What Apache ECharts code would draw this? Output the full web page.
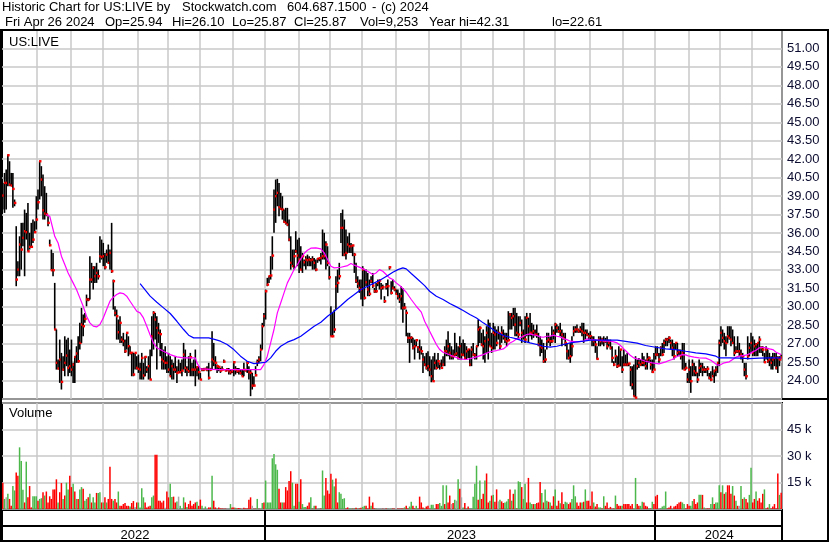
<!DOCTYPE html>
<html><head><meta charset="utf-8">
<script src="https://cdn.jsdelivr.net/npm/echarts@6/dist/echarts.min.js"></script>
<style>html,body{margin:0;padding:0;background:#fff}#c{width:830px;height:543px}</style>
</head><body><div id="c"></div>
<script>
// ---- Daily bars (one entry per trading day) ----
const high = [
40.07,40.88,41.15,42.37,41.83,40.88,40.88,38.72,36.55,33.70,
35.73,36.82,36.82,37.90,37.63,38.44,36.01,36.82,37.09,36.95,
38.99,39.53,41.83,41.43,40.75,39.80,39.26,37.36,35.46,34.65,
34.38,31.94,28.15,25.71,27.33,26.25,25.98,27.60,27.33,27.47,
26.52,27.33,25.44,25.98,26.79,27.60,28.69,29.91,29.37,29.50,
30.99,30.72,34.11,33.57,33.30,33.30,33.57,33.02,35.73,35.46,
35.19,34.38,34.65,35.06,34.65,36.82,32.21,30.04,29.77,28.96,
29.23,27.60,27.88,27.33,27.88,27.60,26.79,26.25,26.25,26.25,
25.98,26.11,25.44,26.25,25.44,25.98,25.17,25.98,26.52,
29.23,29.64,29.50,29.23,28.69,28.15,27.06,26.52,26.79,25.98,
26.25,25.98,25.71,25.44,25.98,25.17,25.71,25.44,25.71,27.06,
26.52,25.17,25.98,26.25,25.44,25.71,26.52,25.17,25.17,24.62,
25.03,25.03,25.03,25.17,25.44,25.03,28.01,27.06,25.98,25.30,
25.17,25.03,25.17,25.71,24.89,25.03,25.03,24.89,24.89,25.57,
25.17,25.03,25.03,24.89,24.89,25.44,24.89,25.57,25.17,24.89,
24.62,24.35,25.17,25.71,25.98,26.93,28.69,29.50,31.40,32.35,
32.48,34.11,35.73,39.53,40.34,40.40,40.07,39.26,38.99,37.90,
38.04,38.04,37.09,35.73,34.65,34.65,36.14,35.46,35.60,34.92,
34.38,33.84,34.11,34.24,34.11,33.97,34.11,33.97,33.84,33.97,
33.97,34.38,
36.28,36.01,35.33,34.92,33.30,30.04,29.50,29.77,32.48,33.02,
33.57,37.63,37.90,37.09,36.28,35.73,36.01,35.19,35.06,34.38,
33.57,32.48,32.21,32.21,33.30,33.02,33.02,32.75,32.21,32.48,
32.75,31.53,31.94,32.21,32.21,31.94,31.80,30.86,31.94,32.21,
33.30,32.08,32.21,31.67,31.40,31.40,31.13,31.67,31.53,30.31,
29.77,27.88,27.88,27.60,27.47,27.33,27.33,26.79,27.33,26.79,
26.25,25.98,26.25,26.38,25.98,25.71,25.98,26.25,25.71,26.25,
25.44,25.71,25.98,26.79,27.33,28.01,27.06,26.79,26.52,27.88,
27.06,26.79,27.60,27.06,27.33,27.06,26.79,26.52,26.52,26.79,
27.06,26.25,26.79,28.96,28.42,27.88,28.15,27.60,28.42,28.96,
28.69,27.88,
28.69,28.42,28.15,28.42,27.88,28.42,28.15,27.88,27.88,29.64,
29.50,29.50,29.91,29.91,29.50,29.23,29.23,28.96,28.15,29.23,
29.50,29.09,29.50,28.69,28.55,28.15,28.55,27.88,27.60,27.33,
27.06,26.52,27.88,27.88,27.60,28.42,28.15,28.69,28.55,28.42,
28.69,28.15,27.88,27.88,27.06,26.52,27.06,27.60,28.42,28.42,
28.55,28.15,28.42,28.69,28.69,28.15,28.15,27.88,28.01,27.60,
27.60,27.33,26.79,27.60,27.60,27.47,27.60,27.47,27.60,27.33,
27.33,26.79,25.57,26.52,25.98,26.79,26.52,25.98,26.52,26.11,
26.25,25.44,25.17,25.17,25.30,25.98,25.71,25.84,25.71,
26.25,25.98,25.71,26.25,25.98,25.71,25.71,26.25,26.79,26.79,
26.25,26.79,27.06,27.33,27.47,27.47,27.60,27.33,27.33,27.06,
27.06,27.06,26.52,26.52,27.06,27.06,25.44,24.62,25.71,25.17,
25.71,25.44,25.17,24.62,25.71,25.44,25.44,25.17,25.03,25.17,
24.62,24.76,25.17,24.89,25.17,25.44,27.33,28.42,28.15,27.88,
27.60,28.42,28.42,28.42,28.15,27.60,26.79,27.60,27.06,26.52,
26.25,25.44,25.44,27.60,27.06,27.88,27.60,27.33,27.06,27.06,
27.60,26.79,26.79,26.25,26.79,26.52,26.25,25.98,26.25,26.25,
26.25,25.98,25.98,26.10
];
const low = [
37.90,37.63,37.90,39.80,39.80,39.80,38.04,38.17,31.67,32.48,
32.48,33.02,34.92,32.48,35.46,34.51,34.65,34.87,35.19,36.01,
36.28,37.90,38.72,38.99,37.09,37.09,37.36,36.55,34.92,32.97,
32.48,28.15,24.89,24.89,23.81,23.27,24.80,24.35,25.17,24.35,
24.62,24.35,23.81,23.81,25.44,25.44,26.52,27.06,27.60,28.69,
30.04,30.45,30.59,31.94,31.40,31.94,31.94,32.21,33.57,33.84,
33.30,33.02,33.57,33.50,33.02,32.75,29.77,29.23,27.33,27.33,
27.06,27.06,26.79,26.25,26.52,25.98,26.11,24.35,24.35,24.89,
24.89,24.62,24.08,24.08,24.08,24.35,24.62,24.08,24.08,
25.98,26.52,27.33,24.89,27.06,25.98,24.89,24.89,24.89,24.62,
24.62,24.35,24.08,24.08,24.62,23.81,24.62,24.62,24.35,24.89,
24.62,24.35,24.62,24.35,24.35,24.35,23.54,24.35,24.08,24.08,
24.76,24.76,24.89,24.76,24.08,24.76,24.89,25.17,24.89,24.62,
24.76,24.62,24.89,25.44,24.76,24.76,24.49,24.49,24.62,24.35,
24.49,24.62,24.49,24.49,24.35,24.35,24.76,24.62,24.08,22.73,
23.27,23.54,24.35,25.17,25.44,25.57,26.52,28.42,28.96,31.67,
31.94,32.21,33.02,36.01,36.82,38.17,37.36,37.90,37.09,36.82,
36.68,36.55,35.33,33.02,33.30,33.02,34.38,33.30,32.75,33.02,
32.75,33.30,33.02,33.30,33.30,33.30,33.02,33.02,32.89,33.57,
33.70,33.43,
33.84,33.84,33.02,33.30,32.21,27.60,27.60,27.88,29.77,31.13,
32.21,35.19,34.11,34.11,33.84,34.38,34.38,34.38,34.11,32.75,
31.94,31.53,31.13,30.59,30.04,30.59,31.67,30.86,30.86,31.94,
31.53,31.13,31.13,31.67,31.40,30.59,31.40,30.31,31.40,30.86,
33.02,30.99,31.40,31.26,30.99,30.59,30.31,29.77,28.69,29.77,
27.60,27.06,25.44,27.06,26.52,25.71,26.79,26.25,25.71,26.11,
24.62,25.17,24.89,24.76,24.35,23.86,23.95,24.89,24.89,25.03,
24.89,25.03,25.17,25.17,25.98,25.98,25.71,25.71,25.71,25.98,
25.98,25.71,25.71,25.71,25.98,25.71,25.71,25.84,25.17,25.17,
25.98,25.71,25.71,26.79,27.06,26.79,25.71,25.44,26.25,25.71,
26.79,26.25,
26.52,26.52,26.79,27.33,26.52,27.06,27.33,27.06,26.79,27.20,
28.15,28.15,28.42,27.60,27.60,27.33,28.42,27.06,27.33,27.06,
27.60,27.06,27.60,27.33,27.47,27.60,27.47,26.79,25.98,26.25,
25.44,25.44,26.52,27.06,26.79,27.06,27.33,27.06,27.88,27.88,
27.60,26.79,27.33,26.79,25.71,25.71,25.44,25.98,27.60,27.88,
27.88,27.88,27.88,27.60,27.06,27.33,27.60,27.33,27.33,26.79,
26.79,26.25,25.71,26.79,26.79,26.93,26.79,27.06,26.52,26.79,
26.52,25.44,25.17,25.44,25.03,25.17,25.17,24.62,25.17,25.17,
25.17,25.17,23.54,23.27,22.73,22.61,24.89,25.03,25.17,
25.17,25.17,24.89,24.89,25.44,24.89,24.62,24.89,25.71,25.98,
25.44,25.98,25.98,26.25,26.79,26.79,27.06,26.52,25.98,25.71,
26.52,25.98,25.98,25.71,24.89,24.89,24.89,23.81,23.81,23.00,
24.35,24.35,24.35,23.81,24.35,24.62,24.35,24.62,24.62,24.35,
24.08,23.95,24.35,23.81,24.35,24.62,25.17,26.79,27.06,26.52,
25.98,27.06,27.33,26.79,27.06,25.98,26.25,26.25,25.98,25.71,
25.44,24.35,24.08,25.71,25.98,26.25,25.98,25.98,25.98,25.98,
26.25,26.25,25.98,25.44,25.71,25.44,25.17,24.89,24.89,25.17,
24.89,24.62,25.17,25.87
];
const close = [
39.04,40.07,40.07,42.32,39.93,39.85,39.58,38.44,32.21,33.02,
35.06,34.65,35.60,36.14,36.06,34.51,34.87,34.87,35.46,36.06,
37.09,38.50,41.83,40.34,37.85,37.58,37.50,36.82,35.00,32.97,
32.97,28.15,25.44,24.98,25.71,23.89,24.89,25.44,26.03,25.03,
25.17,24.89,25.30,25.92,26.20,25.57,27.06,28.55,28.42,29.01,
30.59,30.59,32.21,32.21,33.16,32.48,32.75,32.48,34.11,34.05,
34.11,33.21,34.24,33.57,34.38,32.89,32.08,29.50,29.23,27.93,
28.69,27.33,27.20,26.38,27.88,26.79,26.25,26.25,24.49,26.25,
25.03,24.95,24.89,25.84,24.41,25.92,24.89,25.17,24.08,
27.60,29.50,28.96,28.28,27.88,27.77,25.71,25.57,25.44,25.44,
24.89,24.35,25.17,24.89,24.89,24.62,24.68,24.68,24.81,26.11,
25.03,24.89,24.76,25.90,24.89,24.89,24.89,25.08,24.68,24.08,
24.89,24.89,24.95,24.89,24.22,24.89,25.71,25.57,25.44,25.17,
25.11,24.81,24.89,25.54,24.81,24.89,24.76,24.68,24.76,25.49,
24.89,24.76,24.79,24.62,24.35,24.89,24.81,25.44,24.68,24.62,
23.59,23.59,24.43,25.49,25.71,26.52,28.42,29.23,31.26,31.80,
32.48,32.54,34.16,37.90,38.99,39.26,38.09,37.96,37.90,36.90,
36.82,36.68,35.46,33.57,33.30,34.11,34.51,34.16,33.84,33.02,
34.11,33.62,33.84,33.78,33.84,33.78,33.84,33.57,33.02,33.89,
33.95,33.97,
34.11,34.11,35.06,33.57,32.40,27.60,27.60,28.15,31.67,31.94,
32.48,36.41,36.41,34.24,34.38,35.06,34.92,34.92,34.98,34.24,
32.13,31.89,31.53,31.40,33.02,30.72,31.99,31.40,31.05,32.08,
31.72,31.26,31.26,31.94,32.13,31.53,31.59,30.45,31.62,31.67,
33.21,31.13,31.53,31.40,31.05,30.86,30.59,30.86,29.91,29.93,
29.50,27.47,27.47,27.47,26.66,26.79,27.28,26.71,26.52,26.38,
25.71,25.30,25.03,25.17,24.89,24.35,23.95,25.44,25.03,25.57,
25.36,25.03,25.30,26.38,26.38,26.79,26.25,25.98,25.98,26.11,
26.20,25.84,26.79,26.11,26.09,25.84,26.38,26.52,25.30,26.52,
26.11,26.06,26.79,28.15,28.28,26.93,26.79,27.20,27.88,27.33,
26.79,26.66,
27.88,27.74,27.06,27.88,26.79,27.88,27.60,27.33,27.20,27.28,
29.37,29.09,29.23,28.55,27.88,27.74,28.69,27.88,27.60,27.33,
29.09,28.42,27.88,27.88,28.01,27.74,27.74,26.93,26.79,26.66,
25.57,25.71,27.20,27.33,27.20,27.20,27.88,28.55,28.28,28.01,
28.01,27.74,27.47,27.06,26.38,25.84,25.98,26.79,28.01,28.15,
28.15,28.01,28.15,28.01,27.88,27.88,27.74,27.60,27.60,27.33,
27.20,26.93,25.76,27.33,27.20,27.33,27.20,27.20,26.79,27.06,
26.66,25.84,25.30,25.98,25.17,25.22,26.52,24.89,25.30,25.30,
25.30,25.38,24.89,23.67,22.73,22.61,25.17,25.44,25.30,
25.44,25.44,25.17,25.71,25.84,25.30,24.70,24.89,26.11,26.11,
25.71,26.66,26.11,27.06,27.33,27.33,27.47,27.06,26.66,25.98,
27.06,26.25,26.38,25.98,26.25,24.89,25.03,24.08,24.89,23.95,
25.30,24.76,24.62,24.08,25.03,25.17,24.89,24.89,24.89,24.95,
24.22,24.08,24.35,24.76,24.89,25.44,27.06,27.88,27.47,27.20,
27.06,27.60,27.47,27.33,27.06,26.25,26.38,26.38,26.38,26.11,
25.98,24.89,24.35,25.98,26.66,27.06,26.25,26.79,26.93,27.06,
27.33,26.66,26.52,25.49,26.52,25.57,25.71,25.44,25.71,25.84,
25.03,25.84,25.71,25.87
];
const volume = [
14900,5700,6600,8600,5700,1800,13000,10500,20700,18800,
34900,27200,10900,3700,26800,6600,13000,900,7200,7200,
7200,4700,5700,6100,9500,7600,9900,3700,7200,5700,
11100,11100,16800,3700,9500,14700,5700,7600,14900,11100,
18800,12400,14300,9900,5700,5700,11100,12400,11400,4700,
5700,6600,8600,3700,6600,3700,9100,9100,9500,3700,
3700,6600,3700,5700,23900,5700,4700,5700,3700,9900,
1800,1800,2800,3400,1800,1800,1400,3400,4500,1200,
3700,3700,900,11800,6600,3700,900,1400,1800,6600,
7600,30700,30700,4700,4700,3700,4700,700,9900,6600,
14300,6800,7000,3700,4300,7000,1800,200,6600,3700,
1200,2800,4700,1800,2800,3700,4100,1800,5300,1800,
300,1400,500,900,900,18800,4700,900,200,900,
300,300,200,200,200,200,2800,900,900,700,
300,500,200,300,700,300,300,5300,6600,1800,
200,200,5700,200,200,3400,3700,16100,3700,3700,
3700,28700,31200,25300,22200,11400,3700,3700,3700,12400,
10500,15900,21400,14900,1800,14300,14300,4100,16800,2800,
1200,1200,1800,3700,6600,200,1800,1800,300,200,
300,21800,7600,17600,10500,8600,19900,16600,12800,17200,
3700,9500,8600,5700,6100,300,900,300,300,200,
300,700,200,300,700,1200,1800,1800,200,7000,
1800,3700,300,200,200,100,200,200,200,300,
200,200,200,300,200,200,300,200,300,300,
900,1800,300,1400,4100,1800,300,1800,200,7000,
3700,
900,300,1400,1800,300,2400,2400,200,2800,2800,
3400,1800,13400,2800,13400,3700,7600,2800,3400,5300,
4700,16800,11400,6600,900,3400,200,1400,300,200,
7000,14300,24500,5300,16200,5700,8600,16200,20100,3700,
4700,7600,8000,4100,11100,4300,5300,4300,3400,3700,
4300,5700,11100,4700,8600,11100,200,15700,15300,12400,
5700,14300,3700,17600,3700,2800,2800,2800,3400,3700,
15300,9100,3700,11100,4700,4100,3700,1800,7200,11100,
1800,4700,3200,9500,2800,4100,3700,2800,3700,5700,
13400,7200,3700,1800,3700,3700,4100,11100,4700,4700,
1800,9900,3700,1400,2800,900,900,300,7200,1800,
3700,300,1200,200,300,7600,2800,1800,1800,1800,
2800,2800,2800,2800,1800,2800,200,17600,2800,1800,
1800,4100,3700,1800,1400,300,200,4100,2800,7200,
8000,300,300,1400,1800,9900,300,900,1800,200,
1400,1800,2800,3700,4100,3700,2800,300,2800,1800,
1800,4500,5700,2800,3700,8000,8000,8000,900,200,
300,300,2800,6600,2800,3700,3700,13400,9500,13400,
8600,9500,13400,13400,8600,13000,7600,4700,1800,1800,
13000,5700,6600,5700,3700,8000,23400,3700,5700,9900,
4700,6100,3700,8600,11100,300,900,2800,300,1400,
2800,300,20100,8000,9253
];
// day-over-day direction of each bar (u = up, d = down, n = unchanged)
const volDir = [
"dunudduudd","uuududdduu","uduududddd","dddudduduu","ddududuudu",
"ududuuduud","ududdduddu","dddddduddn","duuuuddddu","uddddddndd",
"uuddununud","uddddduddu","nundduddud","ddddnnuddu","dddndddddn",
"ddudnuduuu","uuuuuddudd","ddduuddudu","uuddududnu","duudddduud",
"duuuudduud","ududduuddd","uddunnndnd","unuddndddd","udduuddudd","d",
"duddduuudd","uuududdndu","nudnududuu","uuududdudd","ududdnuddu",
"uudududuud","uudduududd","duduududdu","ddudduuddu","uudddududd",
"ddudduudud","dddddudddu","dddddduudd","uudddududd","dnuuuudddn",
"ddddduuddd","uuddduudud","dduuduuudu","dudddududn","ududduuddu",
"dddduddudd","dddud"
].join("");

// ---- moving averages: [bar index, value] ----
const maShort = [[26,37.50],[28,37.36],[30,36.28],[31,35.73],[33,35.19],[35,34.11],[37,33.43],[39,32.75],[42,31.94],[44,31.40],[46,30.72],[48,30.04],[50,29.23],[52,28.69],[54,28.42],[56,28.36],[58,28.55],[60,29.09],[62,29.77],[64,30.45],[66,30.78],[68,30.99],[70,31.13],[72,31.07],[74,30.86],[76,30.45],[78,30.04],[80,29.64],[82,29.50],[84,29.09],[86,28.42],[88,27.70],[90,27.06],[92,26.66],[96,26.38],[100,26.11],[104,25.92],[108,25.84],[115,25.84],[116,25.44],[118,24.95],[128,24.89],[138,24.89],[148,24.89],[154,24.89],[156,25.30],[158,25.98],[160,27.06],[162,28.15],[164,29.50],[166,30.31],[168,31.13],[170,31.94],[172,32.48],[174,33.02],[176,33.43],[178,33.89],[180,34.33],[182,34.60],[184,34.76],[187,34.79],[190,34.70],[192,34.38],[194,33.84],[196,33.30],[198,33.16],[202,33.21],[206,33.35],[208,33.51],[210,33.38],[214,33.16],[218,32.89],[221,32.62],[223,32.75],[225,33.02],[227,32.89],[229,32.62],[231,32.35],[233,32.21],[235,31.94],[238,31.62],[241,31.18],[244,30.59],[247,30.04],[250,29.56],[252,28.82],[255,28.01],[257,27.47],[259,26.93],[261,26.52],[263,26.30],[265,26.20],[269,25.98],[273,25.76],[277,25.71],[281,25.84],[283,25.92],[287,26.11],[291,26.34],[295,26.44],[299,26.57],[301,26.79],[303,27.06],[305,27.20],[307,27.39],[309,27.47],[311,27.60],[313,27.74],[315,27.79],[317,27.71],[319,27.66],[321,27.55],[323,27.52],[325,27.60],[327,27.60],[329,27.69],[331,27.60],[333,27.55],[335,27.41],[337,27.33],[339,27.20],[343,27.14],[347,27.20],[349,27.39],[351,27.33],[355,27.28],[359,27.22],[363,27.20],[365,27.14],[367,27.06],[369,26.85],[371,26.57],[373,26.30],[375,26.03],[377,25.84],[379,25.76],[381,25.71],[384,25.57],[388,25.44],[392,25.36],[394,25.44],[396,25.52],[398,25.63],[400,25.71],[402,25.90],[404,26.03],[406,26.11],[408,26.09],[410,25.98],[413,25.90],[416,25.84],[420,25.82],[423,25.65],[425,25.44],[427,25.25],[429,25.30],[431,25.44],[434,25.52],[436,25.71],[438,25.90],[440,25.98],[442,26.03],[444,26.06],[446,26.17],[448,26.33],[450,26.47],[452,26.66],[454,26.71],[456,26.66],[458,26.57],[460,26.52],[462,26.30],[465,26.11]];
const maLong = [[82,31.89],[88,30.86],[92,30.37],[96,29.91],[100,29.45],[104,28.82],[108,28.15],[111,27.69],[114,27.47],[123,27.47],[127,27.33],[130,27.20],[134,26.93],[138,26.52],[142,25.98],[146,25.57],[150,25.38],[154,25.44],[157,25.49],[160,25.84],[163,26.38],[166,26.79],[170,27.12],[174,27.33],[178,27.60],[182,28.01],[186,28.42],[190,28.74],[194,29.23],[198,29.64],[202,30.10],[206,30.59],[210,30.99],[214,31.40],[218,31.67],[222,31.94],[226,32.21],[230,32.54],[233,32.81],[236,33.02],[239,33.16],[241,33.08],[244,32.70],[248,32.21],[252,31.72],[255,31.26],[259,30.86],[263,30.59],[267,30.26],[271,29.99],[275,29.69],[279,29.37],[283,29.09],[287,28.69],[291,28.34],[295,27.93],[299,27.66],[303,27.52],[307,27.39],[311,27.20],[315,27.06],[319,26.93],[323,26.79],[327,26.71],[331,26.79],[335,26.93],[339,27.06],[343,27.14],[347,27.20],[351,27.28],[367,27.28],[371,27.20],[375,27.12],[379,27.04],[384,26.85],[390,26.71],[396,26.57],[402,26.52],[408,26.38],[414,26.25],[420,26.17],[426,25.98],[428,25.84],[434,25.84],[440,25.82],[446,25.79],[452,25.82],[458,25.84],[465,25.84]];

// ---- axis structure and texts ----
const monthStarts = [21,41,60,81,99,118,138,157,177,196,215,235,255,274,293,312,330,351,371,390,410,429,448];
const yearStarts = [0,157,390];
const yearNames = ['2022','2023','2024'];
const headerTitle = ['Historic Chart for US:LIVE by','Stockwatch.com','604.687.1500','-','(c) 2024'];
const headerFields = ['Fri Apr 26 2024','Op=25.94','Hi=26.10','Lo=25.87','Cl=25.87','Vol=9,253','Year hi=42.31','lo=22.61'];
const symbolName = 'US:LIVE';
</script>
<script>
const N = close.length;
const categories = close.map((_, i) => String(i));
const FONT = '"Liberation Sans", Arial, Helvetica, sans-serif';
const GRID_C = '#c8c8c8';
const LABEL_C = '#0c0c30';
const monthSet = new Set(monthStarts);
const yearSet = new Set(yearStarts.slice(1));
const yearMid = {};
yearStarts.forEach((s, k) => {
  const e = k + 1 < yearStarts.length ? yearStarts[k + 1] : N;
  yearMid[Math.round((s + e) / 2)] = yearNames[k];
});
const DIR_COLOR = { u: '#4cb84c', d: '#ff0000', n: '#a8a8a8' };
function dirAt(i) {
  const c = volDir[i];
  if (c) return c;
  if (i === 0) return 'n';
  return close[i] > close[i - 1] ? 'u' : (close[i] < close[i - 1] ? 'd' : 'n');
}
// header layout (x of each text piece)
const headerTitleX = [2, 182, 287, 372, 381];
const headerFieldX = [5, 105, 172, 232, 294, 360, 429, 552];

function xCat(gridIndex, extra) {
  return Object.assign({
    type: 'category', gridIndex, data: categories, boundaryGap: true,
    axisLine: { show: false }, axisTick: { show: false }, axisLabel: { show: false },
    splitLine: { show: false }
  }, extra || {});
}
const monthSplit = { show: true, interval: (i) => monthSet.has(i), lineStyle: { color: GRID_C, width: 1.5 } };
const yearSplit = { show: true, interval: (i) => yearSet.has(i), lineStyle: { color: '#000', width: 2 } };

function txt(t, left, top) {
  return { type: 'text', left, top, silent: true, z: 10,
    style: { text: t, fontSize: 13, fontFamily: FONT, fill: '#000' } };
}
const graphics = [
  txt(symbolName, 9, 36),
  txt('Volume', 9, 407),
  { type: 'rect', silent: true, z: 100, shape: { x: 1, y: 30, width: 827, height: 511 },
    style: { fill: null, stroke: '#000', lineWidth: 2 } },
  { type: 'line', silent: true, z: 100, shape: { x1: 782, y1: 399, x2: 829, y2: 399 },
    style: { stroke: '#000', lineWidth: 2 } }
];
headerTitle.forEach((t, k) => graphics.push(txt(t, headerTitleX[k], 1)));
headerFields.forEach((t, k) => graphics.push(txt(t, headerFieldX[k], 16)));

const option = {
  animation: false,
  backgroundColor: '#fff',
  grid: [
    { left: 2, top: 30, width: 780, height: 369, show: true, borderColor: '#000', borderWidth: 2, backgroundColor: '#fff', outerBoundsMode: 'none' },
    { left: 2, top: 403, width: 780, height: 106, show: true, borderColor: '#000', borderWidth: 2, backgroundColor: '#fff', outerBoundsMode: 'none' },
    { left: 2, top: 510, width: 780, height: 16, show: true, borderColor: '#000', borderWidth: 2, outerBoundsMode: 'none' },
    { left: 2, top: 526, width: 780, height: 15, show: true, borderColor: '#000', borderWidth: 2, outerBoundsMode: 'none' }
  ],
  xAxis: [
    xCat(0, { splitLine: monthSplit }),
    xCat(1, { splitLine: monthSplit }),
    xCat(2, { splitLine: yearSplit }),
    xCat(3, {
      splitLine: yearSplit,
      axisLabel: {
        show: true, inside: true, margin: -1,
        interval: (i) => yearMid[i] !== undefined,
        formatter: (v) => yearMid[+v] || '',
        fontSize: 13, fontFamily: FONT, color: '#000'
      }
    })
  ],
  yAxis: [
    { gridIndex: 0, type: 'value', position: 'right', min: 22.5, max: 52.5, interval: 1.5,
      axisLine: { show: false }, axisTick: { show: false },
      axisLabel: { show: true, margin: 5, formatter: (v) => v.toFixed(2), showMinLabel: false, showMaxLabel: false,
        fontSize: 13, fontFamily: FONT, color: LABEL_C },
      splitLine: { show: true, lineStyle: { color: GRID_C, width: 1.5 } } },
    { gridIndex: 1, type: 'value', position: 'right', min: 0, max: 60000, interval: 15000,
      axisLine: { show: false }, axisTick: { show: false },
      axisLabel: { show: true, margin: 5, formatter: (v) => (v / 1000) + ' k', showMinLabel: false, showMaxLabel: false,
        fontSize: 13, fontFamily: FONT, color: LABEL_C },
      splitLine: { show: true, lineStyle: { color: GRID_C, width: 1.5 } } },
    { gridIndex: 2, type: 'value', show: false },
    { gridIndex: 3, type: 'value', show: false }
  ],
  series: [
    {
      type: 'custom', name: 'price', xAxisIndex: 0, yAxisIndex: 0, clip: true, silent: true, z: 2,
      data: high.map((h, i) => [i, h, low[i], close[i]]),
      encode: { x: 0, y: [1, 2, 3] },
      renderItem: (params, api) => {
        const i = api.value(0);
        const pH = api.coord([i, api.value(1)]);
        const pL = api.coord([i, api.value(2)]);
        const pC = api.coord([i, api.value(3)]);
        return {
          type: 'group',
          children: [
            { type: 'line', shape: { x1: pH[0], y1: pH[1], x2: pL[0], y2: pL[1] },
              style: { stroke: '#000', lineWidth: 1.6 } },
            { type: 'rect', shape: { x: pC[0] - 0.6, y: pC[1] - 1.2, width: 2.4, height: 2.4 },
              style: { fill: '#ff0000' } }
          ]
        };
      }
    },
    { type: 'line', name: 'ma1', xAxisIndex: 0, yAxisIndex: 0, data: maShort, showSymbol: false, symbol: 'none',
      silent: true, z: 3, lineStyle: { color: '#ff00ff', width: 1.2 } },
    { type: 'line', name: 'ma2', xAxisIndex: 0, yAxisIndex: 0, data: maLong, showSymbol: false, symbol: 'none',
      silent: true, z: 3, lineStyle: { color: '#0000ff', width: 1.2 } },
    { type: 'bar', name: 'volume', xAxisIndex: 1, yAxisIndex: 1, silent: true, barWidth: '90%',
      data: volume.map((v, i) => ({ value: v, itemStyle: { color: DIR_COLOR[dirAt(i)] } })) }
  ],
  graphic: graphics
};
const chart = echarts.init(document.getElementById('c'), null, { renderer: 'canvas', width: 830, height: 543 });
chart.setOption(option);
</script>
</body></html>
